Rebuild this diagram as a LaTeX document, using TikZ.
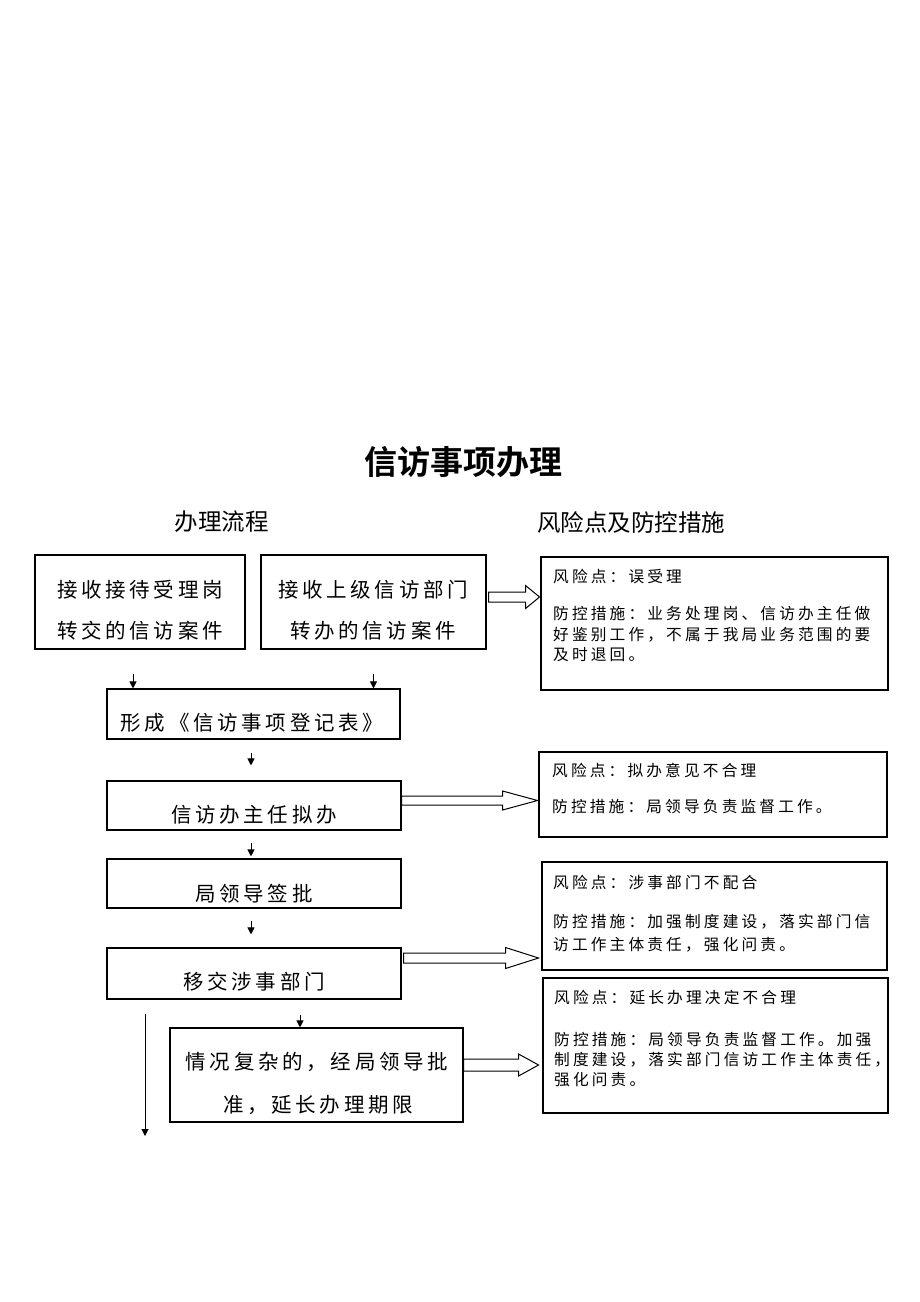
\documentclass[tikz,border=0pt]{standalone}
\usepackage{fontspec}
\setmainfont{Noto Sans CJK SC}
\newfontfamily\boxfont{Noto Sans CJK SC}[LetterSpace=18]
\newfontfamily\riskfont{Noto Sans CJK SC}[LetterSpace=20]
\newfontfamily\titlefont{Noto Sans CJK SC Bold}
\usetikzlibrary{arrows.meta,calc}
\newcommand\harrow[5]{\draw[hollow] (#1) ++(0,-#4) -- ++(#2,0) -- ++(0,{-(#5-#4)}) -- ++(#3,#5) -- ++(-#3,#5) -- ++(0,{-(#5-#4)}) -- ++(-#2,0) -- cycle;}
\begin{document}
\begin{tikzpicture}[x=1pt,y=-1pt,
  box/.style={draw, line width=1.1pt, rectangle, inner sep=0pt},
  bt/.style={inner sep=0pt, font=\boxfont\fontsize{20.5}{24}\selectfont},
  rt/.style={anchor=west, inner sep=0pt, font=\riskfont\fontsize{15.7}{20}\selectfont},
  hd/.style={inner sep=0pt, font=\fontsize{23.5}{24}\selectfont},
  sarr/.style={draw, line width=1pt, -{Triangle[length=7pt,width=7pt]}},
  hollow/.style={draw, line width=1pt, fill=white, line join=miter}]
\fill[white] (0,0) rectangle (920,1302);
\useasboundingbox (0,0) rectangle (920,1302);

% titles
\node[inner sep=0pt, font=\titlefont\fontsize{33}{33}\selectfont] (title) at (463,462) {信访事项办理};
\node[hd] (hleft) at (221.5,522) {办理流程};
\node[hd] (hright) at (631,522) {风险点及防控措施};

% process boxes
\node[box, minimum width=210pt, minimum height=94pt] (A) at (140,602) {};
\node[box, minimum width=225pt, minimum height=94pt] (B) at (373.5,602) {};
\node[box, minimum width=293pt, minimum height=50pt] (C) at (253.5,714) {};
\node[box, minimum width=294pt, minimum height=49pt] (D) at (254,805.5) {};
\node[box, minimum width=294pt, minimum height=49pt] (E) at (254,883.5) {};
\node[box, minimum width=294pt, minimum height=51pt] (F) at (254,973.5) {};
\node[box, minimum width=293pt, minimum height=94pt] (G) at (316.5,1075) {};

\node[bt] (tA1) at (140,590) {接收接待受理岗};
\node[bt] (tA2) at (140,631) {转交的信访案件};
\node[bt] (tB1) at (373,590) {接收上级信访部门};
\node[bt] (tB2) at (373,631) {转办的信访案件};
\node[bt] (tC) at (252,723) {形成《信访事项登记表》};
\node[bt] (tD) at (254,815) {信访办主任拟办};
\node[bt] (tE) at (254,894) {局领导签批};
\node[bt] (tF) at (254,982) {移交涉事部门};
\node[bt] (tG1) at (317,1062) {情况复杂的，经局领导批};
\node[bt] (tG2) at (318,1105) {准，延长办理期限};

% risk boxes
\node[box, minimum width=347pt, minimum height=133pt] (R1) at (714.5,623.5) {};
\node[box, minimum width=348pt, minimum height=85pt] (R2) at (713,794.5) {};
\node[box, minimum width=345pt, minimum height=108pt] (R3) at (714.5,916) {};
\node[box, minimum width=345pt, minimum height=135pt] (R4) at (715.5,1045.5) {};

\node[rt] (r1a) at (553,576) {风险点：误受理};
\node[rt] (r1b) at (553,614) {防控措施：业务处理岗、信访办主任做};
\node[rt] (r1c) at (553,635) {好鉴别工作，不属于我局业务范围的要};
\node[rt] (r1d) at (553,655) {及时退回。};
\node[rt] (r2a) at (552,770) {风险点：拟办意见不合理};
\node[rt] (r2b) at (552,807) {防控措施：局领导负责监督工作。};
\node[rt] (r3a) at (553,882) {风险点：涉事部门不配合};
\node[rt] (r3b) at (553,922) {防控措施：加强制度建设，落实部门信};
\node[rt] (r3c) at (553,945) {访工作主体责任，强化问责。};
\node[rt] (r4a) at (554,998) {风险点：延长办理决定不合理};
\node[rt] (r4b) at (554,1040) {防控措施：局领导负责监督工作。加强};
\node[rt] (r4c) at (554,1060) {制度建设，落实部门信访工作主体责任，};
\node[rt] (r4d) at (554,1080) {强化问责。};

% small arrows
\draw[sarr, shorten <=24pt] ([xshift=-7pt]A.south) -- ([xshift=-7pt]A.south |- C.north);
\draw[sarr, shorten <=24pt] (B.south) -- (B.south |- C.north);
\draw[sarr, shorten <=13pt, shorten >=15pt] ([xshift=-2.5pt]C.south) -- ([xshift=-2.5pt]C.south |- D.north);
\draw[sarr, shorten <=12pt, shorten >=2pt] ([xshift=-3pt]D.south) -- ([xshift=-3pt]D.south |- E.north);
\draw[sarr, shorten <=12pt, shorten >=13pt] ([xshift=-3pt]E.south) -- ([xshift=-3pt]E.south |- F.north);
\draw[sarr, shorten <=15pt] ([xshift=46pt]F.south) -- ([xshift=46pt]F.south |- G.north);
\coordinate (endc) at (145,1136);
\draw[sarr, shorten <=14pt] ([xshift=-109pt]F.south) -- (endc);

% hollow arrows
\coordinate (h1) at ([shift={(2,-5)}]B.east);
\coordinate (h2) at ([shift={(0,-5)}]D.east);
\coordinate (h3) at ([shift={(2,-15.5)}]F.east);
\coordinate (h4) at ([shift={(0,-10)}]G.east);
\harrow{h1}{37}{14}{5}{11.5}
\harrow{h2}{101}{35}{4.5}{9.5}
\harrow{h3}{102}{33}{5}{10.5}
\harrow{h4}{55}{20}{6}{11}
\end{tikzpicture}
\end{document}
